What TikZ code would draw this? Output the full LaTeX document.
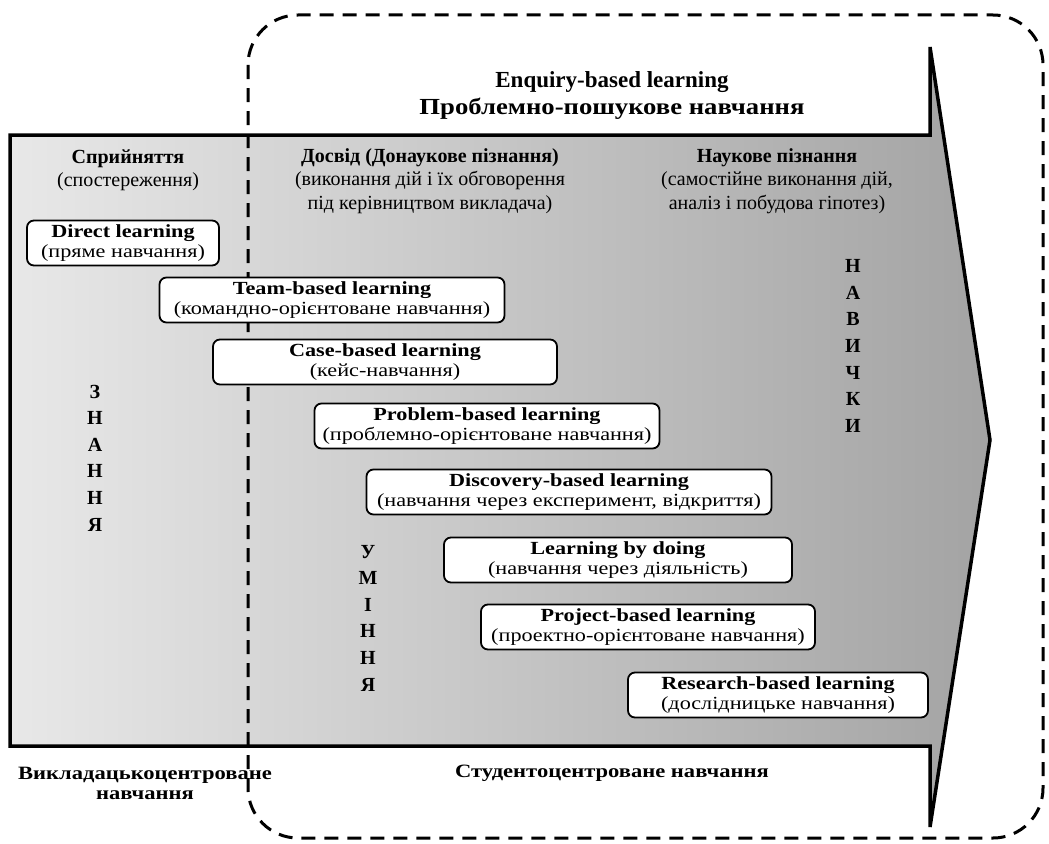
\documentclass[tikz,border=0pt]{standalone}
\usepackage{fontspec}
\setmainfont{Liberation Serif}
\newfontfamily\widefont{Liberation Serif}[FakeStretch=1.2]
\newfontfamily\titlewide{Liberation Serif}[FakeStretch=1.16]
\usepackage{tikz}

\tikzset{
	lbox/.style={draw, line width=1.8pt, fill=white, rounded corners=7pt, align=center, inner sep=1pt, minimum height=45pt, font=\widefont\fontsize{18.5}{19.5}\selectfont},
	head/.style={align=center, font=\fontsize{20}{23.5}\selectfont},
	vword/.style={align=center, font=\fontsize{20}{26.6}\selectfont\bfseries},
	foot/.style={align=center, font=\widefont\fontsize{18.8}{20}\selectfont\bfseries},
	title/.style={align=center, font=\fontsize{23}{27}\selectfont\bfseries}
}

\begin{document}
\begin{tikzpicture}[x=1pt, y=-1pt]
			\useasboundingbox (0,0) rectangle (1049,843);
			\path[draw, line width=3.5pt, left color=gray!18, right color=gray!72]
				(10,135) -- (930,135) -- (930,47) -- (990,440) -- (930,827) -- (930,746) -- (10,746) -- cycle;
			\draw[line width=3pt, dash pattern=on 14pt off 9pt, rounded corners=50pt]
				(248,15) rectangle (1043,838);
			\node[title] (enquiry) at (612,96) {Enquiry-based learning\\{\titlewide Проблемно-пошукове навчання}};
			\node[head] (perception) at (128,170) {\textbf{Сприйняття}\\(спостереження)};
			\node[head] (experience) at (430,181) {\textbf{Досвід (Донаукове пізнання)}\\(виконання дій і їх обговорення\\під керівництвом викладача)};
			\node[head] (science) at (777,181) {\textbf{Наукове пізнання}\\(самостійне виконання дій,\\аналіз і побудова гіпотез)};
			\node[lbox, minimum width=192pt] (direct) at (123,243) {\textbf{Direct learning}\\(пряме навчання)};
			\node[lbox, minimum width=345pt] (team) at (332,300) {\textbf{Team-based learning}\\(командно-орієнтоване навчання)};
			\node[lbox, minimum width=344pt] (case) at (385,362) {\textbf{Case-based learning}\\(кейс-навчання)};
			\node[lbox, minimum width=345pt] (problem) at (487,426) {\textbf{Problem-based learning}\\(проблемно-орієнтоване навчання)};
			\node[lbox, minimum width=405pt] (discovery) at (569,492) {\textbf{Discovery-based learning}\\(навчання через експеримент, відкриття)};
			\node[lbox, minimum width=348pt] (doing) at (618,560) {\textbf{Learning by doing}\\(навчання через діяльність)};
			\node[lbox, minimum width=334pt] (project) at (648,627) {\textbf{Project-based learning}\\(проектно-орієнтоване навчання)};
			\node[lbox, minimum width=300pt] (research) at (778,695) {\textbf{Research-based learning}\\(дослідницьке навчання)};
			\node[vword] (knowledge) at (95,458) {З\\Н\\А\\Н\\Н\\Я};
			\node[vword] (abilities) at (368,618) {У\\М\\І\\Н\\Н\\Я};
			\node[vword] (skills) at (853,346) {Н\\А\\В\\И\\Ч\\К\\И};
			\node[foot] (teacher) at (145,783) {Викладацькоцентроване\\навчання};
			\node[foot] (student) at (612,773) {Студентоцентроване навчання};
		\end{tikzpicture}
\end{document}
